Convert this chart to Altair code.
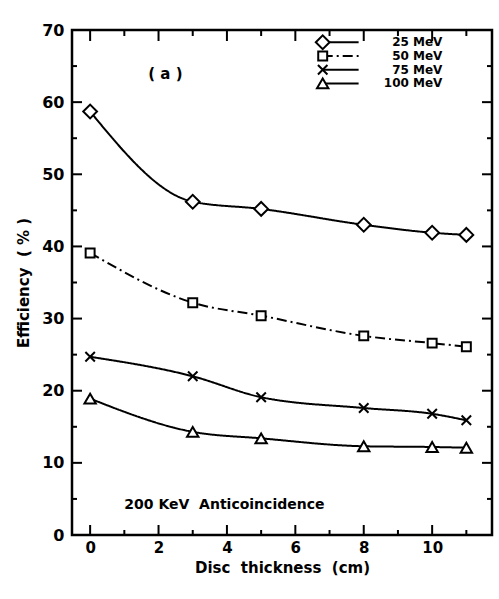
import altair as alt
import pandas as pd

# ---- data ----
thickness = [0, 3, 5, 8, 10, 11]
eff_25 = [58.7, 46.2, 45.2, 43.0, 41.9, 41.6]
eff_50 = [39.1, 32.2, 30.4, 27.6, 26.6, 26.1]
eff_75 = [24.7, 22.0, 19.1, 17.6, 16.8, 15.9]
eff_100 = [18.9, 14.3, 13.4, 12.3, 12.2, 12.1]
series = ["25 MeV", "50 MeV", "75 MeV", "100 MeV"]

x_ticks_major = [0, 2, 4, 6, 8, 10]
x_ticks_minor = [1, 3, 5, 7, 9, 11]
y_ticks_major = [0, 10, 20, 30, 40, 50, 60, 70]
y_ticks_minor = [5, 15, 25, 35, 45, 55, 65]

# legend layout (data coordinates)
legend_y = [68.3, 66.4, 64.5, 62.6]

FONT = "DejaVu Sans"
NB = "\u00a0"
W, H = 420, 505

rows = []
for s, vals in zip(series, [eff_25, eff_50, eff_75, eff_100]):
    for t, v in zip(thickness, vals):
        rows.append({"series": s, "x": t, "y": v})
df = pd.DataFrame(rows)

leg = pd.DataFrame({"series": series, "y": legend_y,
                    "x0": [6.8] * 4, "x1": [7.85] * 4, "xt": [10.3] * 4})

xs = alt.Scale(domain=[-0.53, 11.75], nice=False, zero=False)
ys = alt.Scale(domain=[0, 70], nice=False)
dash_scale = alt.Scale(domain=series, range=[[1, 0], [10, 4, 2, 4], [1, 0], [1, 0]])
shape_scale = alt.Scale(domain=series,
                        range=["diamond", "square", "M-1,-1L1,1M-1,1L1,-1", "triangle-up"])
size_scale = alt.Scale(type="ordinal", domain=series, range=[190, 80, 90, 130])

base = alt.Chart(df)

lines = base.mark_line(color="black", strokeWidth=2, interpolate="monotone").encode(
    x=alt.X("x:Q", scale=xs,
            axis=alt.Axis(values=x_ticks_major, ticks=False, domain=False, grid=False,
                          labelFont=FONT, labelFontWeight="bold", labelFontSize=15,
                          labelColor="black", labelPadding=5,
                          title=f"Disc{NB}{NB}thickness{NB}{NB}(cm)", titleFont=FONT,
                          titleFontWeight="bold", titleFontSize=15, titleColor="black",
                          titlePadding=5)),
    y=alt.Y("y:Q", scale=ys,
            axis=alt.Axis(values=y_ticks_major, ticks=False, domain=False, grid=False,
                          labelFont=FONT, labelFontWeight="bold", labelFontSize=16,
                          labelColor="black", labelPadding=8,
                          title=f"Efficiency{NB}{NB}({NB}%{NB})", titleFont=FONT,
                          titleFontWeight="bold", titleFontSize=15, titleColor="black",
                          titlePadding=10)),
    detail="series:N",
    strokeDash=alt.StrokeDash("series:N", scale=dash_scale, legend=None),
)

points = base.mark_point(filled=True, fill="white", stroke="black", strokeWidth=2,
                         opacity=1).encode(
    x=alt.X("x:Q", scale=xs),
    y=alt.Y("y:Q", scale=ys),
    shape=alt.Shape("series:N", scale=shape_scale, legend=None),
    size=alt.Size("series:N", scale=size_scale, legend=None),
)

# ---- frame ticks ----
def tick_layer(vals, orient, length):
    d = pd.DataFrame({"v": vals})
    c = alt.Chart(d).mark_rule(color="black", strokeWidth=2)
    if orient == "bottom":
        return c.encode(x=alt.X("v:Q", scale=xs), y=alt.value(H), y2=alt.value(H - length))
    if orient == "top":
        return c.encode(x=alt.X("v:Q", scale=xs), y=alt.value(0), y2=alt.value(length))
    if orient == "left":
        return c.encode(y=alt.Y("v:Q", scale=ys), x=alt.value(0), x2=alt.value(length))
    return c.encode(y=alt.Y("v:Q", scale=ys), x=alt.value(W), x2=alt.value(W - length))

ticks = [
    tick_layer(x_ticks_major, "bottom", 10), tick_layer(x_ticks_minor, "bottom", 5),
    tick_layer(x_ticks_major, "top", 11), tick_layer(x_ticks_minor, "top", 6),
    tick_layer(y_ticks_major, "left", 10), tick_layer(y_ticks_minor, "left", 5),
    tick_layer(y_ticks_major, "right", 10), tick_layer(y_ticks_minor, "right", 5),
]

# ---- legend ----
lchart = alt.Chart(leg)
leg_lines = lchart.mark_rule(color="black", strokeWidth=2).encode(
    x=alt.X("x0:Q", scale=xs), x2="x1:Q", y=alt.Y("y:Q", scale=ys),
    strokeDash=alt.StrokeDash("series:N", scale=dash_scale, legend=None),
)
leg_pts = lchart.mark_point(filled=True, fill="white", stroke="black", strokeWidth=2,
                            opacity=1).encode(
    x=alt.X("x0:Q", scale=xs), y=alt.Y("y:Q", scale=ys),
    shape=alt.Shape("series:N", scale=shape_scale, legend=None),
    size=alt.Size("series:N", scale=size_scale, legend=None),
)
leg_txt = lchart.mark_text(align="right", baseline="middle", font=FONT, fontWeight="bold",
                           fontSize=12, color="black").encode(
    x=alt.X("xt:Q", scale=xs), y=alt.Y("y:Q", scale=ys),
    text=alt.Text("series:N"),
)

# ---- annotations ----
note_x = [2.2, 1.0]
note_y = [63.9, 4.2]
note_text = [f"({NB}a{NB})", f"200{NB}KeV{NB}{NB}Anticoincidence"]
notes = pd.DataFrame({"x": note_x, "y": note_y, "t": note_text})
note_a = alt.Chart(notes.iloc[[0]]).mark_text(align="center", baseline="middle", font=FONT,
                                             fontWeight="bold", fontSize=15, color="black").encode(
    x=alt.X("x:Q", scale=xs), y=alt.Y("y:Q", scale=ys), text="t:N")
note_b = alt.Chart(notes.iloc[[1]]).mark_text(align="left", baseline="middle", font=FONT,
                                             fontWeight="bold", fontSize=14, color="black").encode(
    x=alt.X("x:Q", scale=xs), y=alt.Y("y:Q", scale=ys), text="t:N")

chart = alt.layer(
    lines, points, *ticks, leg_lines, leg_pts, leg_txt, note_a, note_b
).properties(
    width=W, height=H,
    autosize=alt.AutoSizeParams(type="none"),
    padding={"left": 72, "top": 30, "right": 7, "bottom": 64},
    background="white",
).configure_view(stroke="black", strokeWidth=2.5)

chart.save("out.html", embed_options={"renderer": "svg", "actions": False})
